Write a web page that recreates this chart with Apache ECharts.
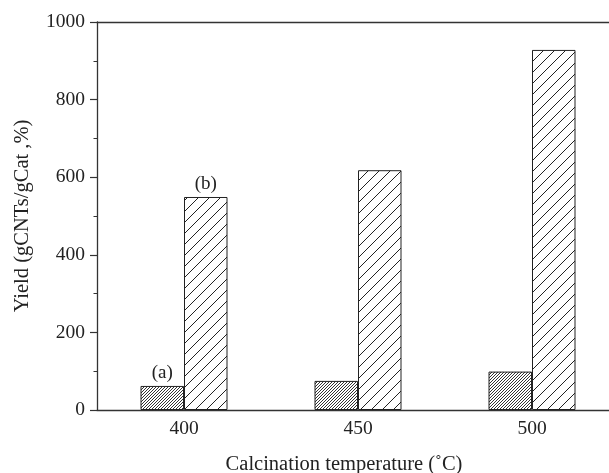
<!DOCTYPE html>
<html>
<head>
<meta charset="utf-8">
<script src="https://cdn.jsdelivr.net/npm/echarts@6/dist/echarts.min.js"></script>
<style>html,body{margin:0;padding:0;background:#fff;overflow:hidden;}#c{width:609px;height:473px;}</style>
</head>
<body>
<div id="c"></div>
<script>
var categories = ['400', '450', '500'];
var seriesA = [62, 75, 99];
var seriesB = [549, 618, 928];
var markLabels = ['(a)', '(b)'];
var yTicks = [0, 200, 400, 600, 800, 1000];
var xTitle = 'Calcination temperature (\u02DAC)';
var yTitle = 'Yield (gCNTs/gCat ,%)';

function hatch(step, lw, color) {
  var c = document.createElement('canvas');
  c.width = step; c.height = step;
  var g = c.getContext('2d');
  g.fillStyle = '#fff'; g.fillRect(0, 0, step, step);
  g.strokeStyle = color; g.lineWidth = lw;
  g.beginPath();
  g.moveTo(0, step); g.lineTo(step, 0);
  g.moveTo(-step, step); g.lineTo(step, -step);
  g.moveTo(0, 2 * step); g.lineTo(2 * step, 0);
  g.stroke();
  return c;
}

var font = 'Liberation Serif';
var chart = echarts.init(document.getElementById('c'), null, {renderer: 'canvas'});
function itemsWithLabel(vals, lbl) {
  return vals.map(function (v, i) {
    return i === 0 ? {value: v, label: {show: true, formatter: lbl}} : v;
  });
}
var lineColor = '#333';
chart.setOption({
  animation: false,
  backgroundColor: '#fff',
  grid: {left: 97, top: 22, bottom: 63, width: 522, containLabel: false, outerBoundsMode: 'none'},
  xAxis: [{
    type: 'category',
    data: categories,
    boundaryGap: true,
    axisLine: {lineStyle: {color: lineColor, width: 1.3}},
    axisTick: {show: false},
    axisLabel: {fontFamily: font, fontSize: 19.5, color: '#222', margin: 9},
    name: xTitle,
    nameLocation: 'middle',
    nameGap: 44,
    nameTextStyle: {fontFamily: font, fontSize: 20.5, color: '#222', padding: [0, 28, 0, 0]}
  }, {
    type: 'category',
    position: 'top',
    data: categories,
    axisLine: {lineStyle: {color: lineColor, width: 1.3}},
    axisTick: {show: false},
    axisLabel: {show: false}
  }],
  yAxis: {
    type: 'value',
    min: yTicks[0], max: yTicks[yTicks.length - 1], interval: yTicks[1] - yTicks[0],
    axisLine: {show: true, lineStyle: {color: lineColor, width: 1.3}},
    axisTick: {show: true, length: 7, lineStyle: {color: lineColor, width: 1.2}},
    minorTick: {show: true, splitNumber: 2, length: 3.5, lineStyle: {color: lineColor, width: 1}},
    splitLine: {show: false},
    axisLabel: {fontFamily: font, fontSize: 19.5, color: '#222', margin: 12, formatter: function (v) { return String(v); }},
    name: yTitle,
    nameLocation: 'middle',
    nameGap: 64,
    nameRotate: 90,
    nameTextStyle: {fontFamily: font, fontSize: 20.5, color: '#222'}
  },
  series: [{
    type: 'bar',
    data: itemsWithLabel(seriesA, markLabels[0]),
    barWidth: 43.5,
    barGap: '0%',
    itemStyle: {color: {image: hatch(3, 1, '#333'), repeat: 'repeat'}, borderColor: '#222', borderWidth: 1},
    label: {position: 'top', distance: 3, fontFamily: font, fontSize: 19, color: '#222'}
  }, {
    type: 'bar',
    data: itemsWithLabel(seriesB, markLabels[1]),
    barWidth: 43.5,
    barGap: '0%',
    itemStyle: {color: {image: hatch(11, 1, '#222'), repeat: 'repeat'}, borderColor: '#222', borderWidth: 1},
    label: {position: 'top', distance: 3, fontFamily: font, fontSize: 19, color: '#222'}
  }]
});
</script>
</body>
</html>
